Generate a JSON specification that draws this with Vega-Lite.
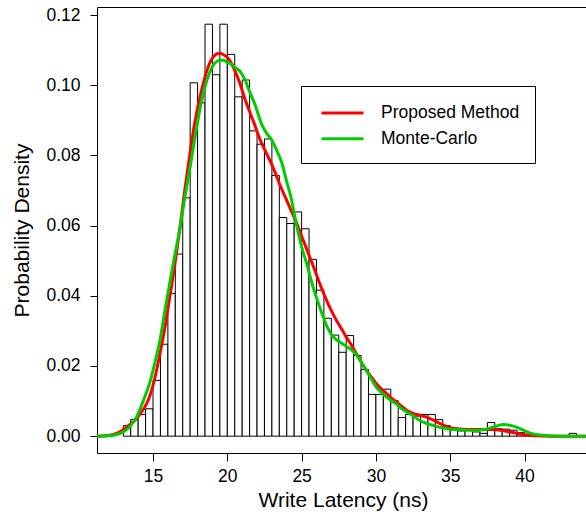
{
  "$schema": "https://vega.github.io/schema/vega-lite/v6.json",
  "width": 492,
  "height": 446,
  "autosize": "none",
  "padding": {"left": 97, "top": 7, "right": 0, "bottom": 61},
  "background": "white",
  "config": {
    "font": "Liberation Sans",
    "view": {"stroke": "black", "strokeWidth": 1},
    "axis": {
      "domain": false,
      "grid": false,
      "tickColor": "black",
      "labelColor": "black",
      "titleColor": "black",
      "labelFont": "Liberation Sans",
      "titleFont": "Liberation Sans",
      "labelFontSize": 17.5,
      "titleFontSize": 21,
      "titleFontWeight": "normal"
    },
    "legend": {
      "orient": "none",
      "legendX": 204,
      "legendY": 79,
      "strokeColor": "black",
      "fillColor": "white",
      "padding": 15,
      "symbolType": "M-0.619,0H3.381",
      "symbolSize": 441,
      "symbolStrokeWidth": 3,
      "labelFontSize": 17.5,
      "labelFont": "Liberation Sans",
      "labelColor": "black",
      "labelOffset": 41,
      "rowPadding": 4.8,
      "labelLimit": 300,
      "titleOrient": "right",
      "titleFontSize": 17.5,
      "titleFont": "Liberation Sans",
      "titlePadding": 0
    }
  },
  "datasets": {
    "hist": [
      {"bin_start": 13.0, "bin_end": 13.5, "density": 0.0030},
      {"bin_start": 13.5, "bin_end": 14.0, "density": 0.0048},
      {"bin_start": 14.0, "bin_end": 14.5, "density": 0.0062},
      {"bin_start": 14.5, "bin_end": 15.0, "density": 0.0078},
      {"bin_start": 15.0, "bin_end": 15.5, "density": 0.0159},
      {"bin_start": 15.5, "bin_end": 16.0, "density": 0.0262},
      {"bin_start": 16.0, "bin_end": 16.5, "density": 0.0407},
      {"bin_start": 16.5, "bin_end": 17.0, "density": 0.0519},
      {"bin_start": 17.0, "bin_end": 17.5, "density": 0.0679},
      {"bin_start": 17.5, "bin_end": 18.0, "density": 0.1007},
      {"bin_start": 18.0, "bin_end": 18.5, "density": 0.0950},
      {"bin_start": 18.5, "bin_end": 19.0, "density": 0.1174},
      {"bin_start": 19.0, "bin_end": 19.5, "density": 0.1030},
      {"bin_start": 19.5, "bin_end": 20.0, "density": 0.1174},
      {"bin_start": 20.0, "bin_end": 20.5, "density": 0.1088},
      {"bin_start": 20.5, "bin_end": 21.0, "density": 0.0967},
      {"bin_start": 21.0, "bin_end": 21.5, "density": 0.1015},
      {"bin_start": 21.5, "bin_end": 22.0, "density": 0.0870},
      {"bin_start": 22.0, "bin_end": 22.5, "density": 0.0832},
      {"bin_start": 22.5, "bin_end": 23.0, "density": 0.0847},
      {"bin_start": 23.0, "bin_end": 23.5, "density": 0.0743},
      {"bin_start": 23.5, "bin_end": 24.0, "density": 0.0623},
      {"bin_start": 24.0, "bin_end": 24.5, "density": 0.0606},
      {"bin_start": 24.5, "bin_end": 25.0, "density": 0.0639},
      {"bin_start": 25.0, "bin_end": 25.5, "density": 0.0591},
      {"bin_start": 25.5, "bin_end": 26.0, "density": 0.0504},
      {"bin_start": 26.0, "bin_end": 26.5, "density": 0.0416},
      {"bin_start": 26.5, "bin_end": 27.0, "density": 0.0336},
      {"bin_start": 27.0, "bin_end": 27.5, "density": 0.0288},
      {"bin_start": 27.5, "bin_end": 28.0, "density": 0.0239},
      {"bin_start": 28.0, "bin_end": 28.5, "density": 0.0287},
      {"bin_start": 28.5, "bin_end": 29.0, "density": 0.0230},
      {"bin_start": 29.0, "bin_end": 29.5, "density": 0.0190},
      {"bin_start": 29.5, "bin_end": 30.0, "density": 0.0119},
      {"bin_start": 30.0, "bin_end": 30.5, "density": 0.0119},
      {"bin_start": 30.5, "bin_end": 31.0, "density": 0.0134},
      {"bin_start": 31.0, "bin_end": 31.5, "density": 0.0101},
      {"bin_start": 31.5, "bin_end": 32.0, "density": 0.0053},
      {"bin_start": 32.0, "bin_end": 32.5, "density": 0.0062},
      {"bin_start": 32.5, "bin_end": 33.0, "density": 0.0057},
      {"bin_start": 33.0, "bin_end": 33.5, "density": 0.0062},
      {"bin_start": 33.5, "bin_end": 34.0, "density": 0.0062},
      {"bin_start": 34.0, "bin_end": 34.5, "density": 0.0047},
      {"bin_start": 34.5, "bin_end": 35.0, "density": 0.0030},
      {"bin_start": 35.0, "bin_end": 35.5, "density": 0.0023},
      {"bin_start": 35.5, "bin_end": 36.0, "density": 0.0015},
      {"bin_start": 36.0, "bin_end": 36.5, "density": 0.0021},
      {"bin_start": 36.5, "bin_end": 37.0, "density": 0.0012},
      {"bin_start": 37.0, "bin_end": 37.5, "density": 0.0008},
      {"bin_start": 37.5, "bin_end": 38.0, "density": 0.0039},
      {"bin_start": 38.0, "bin_end": 38.5, "density": 0.0021},
      {"bin_start": 38.5, "bin_end": 39.0, "density": 0.0020},
      {"bin_start": 39.0, "bin_end": 39.5, "density": 0.0017},
      {"bin_start": 39.5, "bin_end": 40.0, "density": 0.0010},
      {"bin_start": 40.0, "bin_end": 40.5, "density": 0.0005},
      {"bin_start": 40.5, "bin_end": 41.0, "density": 0.0003},
      {"bin_start": 41.0, "bin_end": 41.5, "density": 0.0},
      {"bin_start": 41.5, "bin_end": 42.0, "density": 0.0},
      {"bin_start": 42.0, "bin_end": 42.5, "density": 0.0},
      {"bin_start": 42.5, "bin_end": 43.0, "density": 0.0},
      {"bin_start": 43.0, "bin_end": 43.5, "density": 0.0008}
    ],
    "curves": [
      {"series": "Proposed Method", "x": 11.23, "y": 0.0},
      {"series": "Proposed Method", "x": 12.0, "y": 0.0002},
      {"series": "Proposed Method", "x": 12.5, "y": 0.0007},
      {"series": "Proposed Method", "x": 13.0, "y": 0.0018},
      {"series": "Proposed Method", "x": 13.5, "y": 0.0035},
      {"series": "Proposed Method", "x": 13.9, "y": 0.0050},
      {"series": "Proposed Method", "x": 14.2, "y": 0.0068},
      {"series": "Proposed Method", "x": 14.46, "y": 0.0084},
      {"series": "Proposed Method", "x": 14.7, "y": 0.0105},
      {"series": "Proposed Method", "x": 14.91, "y": 0.0131},
      {"series": "Proposed Method", "x": 15.2, "y": 0.0180},
      {"series": "Proposed Method", "x": 15.47, "y": 0.0236},
      {"series": "Proposed Method", "x": 15.81, "y": 0.0312},
      {"series": "Proposed Method", "x": 16.14, "y": 0.0400},
      {"series": "Proposed Method", "x": 16.48, "y": 0.0492},
      {"series": "Proposed Method", "x": 16.82, "y": 0.0596},
      {"series": "Proposed Method", "x": 17.15, "y": 0.0705},
      {"series": "Proposed Method", "x": 17.5, "y": 0.0810},
      {"series": "Proposed Method", "x": 17.83, "y": 0.0898},
      {"series": "Proposed Method", "x": 18.15, "y": 0.0965},
      {"series": "Proposed Method", "x": 18.5, "y": 0.1024},
      {"series": "Proposed Method", "x": 18.8, "y": 0.1062},
      {"series": "Proposed Method", "x": 19.06, "y": 0.1081},
      {"series": "Proposed Method", "x": 19.3, "y": 0.1090},
      {"series": "Proposed Method", "x": 19.51, "y": 0.1091},
      {"series": "Proposed Method", "x": 19.75, "y": 0.1087},
      {"series": "Proposed Method", "x": 19.96, "y": 0.1081},
      {"series": "Proposed Method", "x": 20.25, "y": 0.1065},
      {"series": "Proposed Method", "x": 20.52, "y": 0.1040},
      {"series": "Proposed Method", "x": 20.85, "y": 0.1005},
      {"series": "Proposed Method", "x": 21.19, "y": 0.0960},
      {"series": "Proposed Method", "x": 21.5, "y": 0.0925},
      {"series": "Proposed Method", "x": 21.86, "y": 0.0885},
      {"series": "Proposed Method", "x": 22.2, "y": 0.0845},
      {"series": "Proposed Method", "x": 22.53, "y": 0.0815},
      {"series": "Proposed Method", "x": 22.87, "y": 0.0785},
      {"series": "Proposed Method", "x": 23.2, "y": 0.0753},
      {"series": "Proposed Method", "x": 23.5, "y": 0.0720},
      {"series": "Proposed Method", "x": 23.87, "y": 0.0684},
      {"series": "Proposed Method", "x": 24.2, "y": 0.0652},
      {"series": "Proposed Method", "x": 24.54, "y": 0.0620},
      {"series": "Proposed Method", "x": 24.88, "y": 0.0584},
      {"series": "Proposed Method", "x": 25.22, "y": 0.0546},
      {"series": "Proposed Method", "x": 25.55, "y": 0.0510},
      {"series": "Proposed Method", "x": 25.89, "y": 0.0473},
      {"series": "Proposed Method", "x": 26.2, "y": 0.0437},
      {"series": "Proposed Method", "x": 26.6, "y": 0.0395},
      {"series": "Proposed Method", "x": 26.95, "y": 0.0362},
      {"series": "Proposed Method", "x": 27.33, "y": 0.0331},
      {"series": "Proposed Method", "x": 27.7, "y": 0.0305},
      {"series": "Proposed Method", "x": 28.0, "y": 0.0283},
      {"series": "Proposed Method", "x": 28.35, "y": 0.0260},
      {"series": "Proposed Method", "x": 28.67, "y": 0.0236},
      {"series": "Proposed Method", "x": 29.0, "y": 0.0212},
      {"series": "Proposed Method", "x": 29.35, "y": 0.0188},
      {"series": "Proposed Method", "x": 29.7, "y": 0.0168},
      {"series": "Proposed Method", "x": 30.02, "y": 0.0150},
      {"series": "Proposed Method", "x": 30.35, "y": 0.0135},
      {"series": "Proposed Method", "x": 30.7, "y": 0.0122},
      {"series": "Proposed Method", "x": 31.0, "y": 0.0110},
      {"series": "Proposed Method", "x": 31.37, "y": 0.0098},
      {"series": "Proposed Method", "x": 31.7, "y": 0.0086},
      {"series": "Proposed Method", "x": 32.07, "y": 0.0074},
      {"series": "Proposed Method", "x": 32.5, "y": 0.0065},
      {"series": "Proposed Method", "x": 33.0, "y": 0.0059},
      {"series": "Proposed Method", "x": 33.42, "y": 0.0054},
      {"series": "Proposed Method", "x": 33.9, "y": 0.0045},
      {"series": "Proposed Method", "x": 34.31, "y": 0.0036},
      {"series": "Proposed Method", "x": 34.75, "y": 0.0028},
      {"series": "Proposed Method", "x": 35.2, "y": 0.0022},
      {"series": "Proposed Method", "x": 35.8, "y": 0.0020},
      {"series": "Proposed Method", "x": 36.55, "y": 0.0019},
      {"series": "Proposed Method", "x": 37.2, "y": 0.0019},
      {"series": "Proposed Method", "x": 37.9, "y": 0.0019},
      {"series": "Proposed Method", "x": 38.5, "y": 0.0016},
      {"series": "Proposed Method", "x": 39.02, "y": 0.0012},
      {"series": "Proposed Method", "x": 39.6, "y": 0.0007},
      {"series": "Proposed Method", "x": 40.15, "y": 0.0003},
      {"series": "Proposed Method", "x": 40.8, "y": 0.0001},
      {"series": "Proposed Method", "x": 41.7, "y": 0.0},
      {"series": "Proposed Method", "x": 44.3, "y": 0.0},
      {"series": "Monte-Carlo", "x": 11.23, "y": 0.0},
      {"series": "Monte-Carlo", "x": 12.0, "y": 0.0001},
      {"series": "Monte-Carlo", "x": 12.5, "y": 0.0004},
      {"series": "Monte-Carlo", "x": 13.0, "y": 0.0012},
      {"series": "Monte-Carlo", "x": 13.5, "y": 0.0030},
      {"series": "Monte-Carlo", "x": 13.9, "y": 0.0055},
      {"series": "Monte-Carlo", "x": 14.2, "y": 0.0085},
      {"series": "Monte-Carlo", "x": 14.5, "y": 0.0118},
      {"series": "Monte-Carlo", "x": 14.8, "y": 0.0155},
      {"series": "Monte-Carlo", "x": 15.1, "y": 0.0205},
      {"series": "Monte-Carlo", "x": 15.47, "y": 0.0274},
      {"series": "Monte-Carlo", "x": 15.81, "y": 0.0360},
      {"series": "Monte-Carlo", "x": 16.14, "y": 0.0440},
      {"series": "Monte-Carlo", "x": 16.48, "y": 0.0518},
      {"series": "Monte-Carlo", "x": 16.82, "y": 0.0595},
      {"series": "Monte-Carlo", "x": 17.15, "y": 0.0682},
      {"series": "Monte-Carlo", "x": 17.49, "y": 0.0765},
      {"series": "Monte-Carlo", "x": 17.83, "y": 0.0853},
      {"series": "Monte-Carlo", "x": 18.15, "y": 0.0930},
      {"series": "Monte-Carlo", "x": 18.5, "y": 0.0996},
      {"series": "Monte-Carlo", "x": 18.8, "y": 0.1035},
      {"series": "Monte-Carlo", "x": 19.06, "y": 0.1058},
      {"series": "Monte-Carlo", "x": 19.3, "y": 0.1068},
      {"series": "Monte-Carlo", "x": 19.51, "y": 0.1072},
      {"series": "Monte-Carlo", "x": 19.75, "y": 0.1071},
      {"series": "Monte-Carlo", "x": 19.96, "y": 0.1067},
      {"series": "Monte-Carlo", "x": 20.25, "y": 0.1060},
      {"series": "Monte-Carlo", "x": 20.52, "y": 0.1050},
      {"series": "Monte-Carlo", "x": 20.85, "y": 0.1040},
      {"series": "Monte-Carlo", "x": 21.19, "y": 0.1015},
      {"series": "Monte-Carlo", "x": 21.5, "y": 0.0982},
      {"series": "Monte-Carlo", "x": 21.86, "y": 0.0945},
      {"series": "Monte-Carlo", "x": 22.0, "y": 0.0928},
      {"series": "Monte-Carlo", "x": 22.3, "y": 0.0890},
      {"series": "Monte-Carlo", "x": 22.65, "y": 0.0863},
      {"series": "Monte-Carlo", "x": 23.0, "y": 0.0843},
      {"series": "Monte-Carlo", "x": 23.32, "y": 0.0815},
      {"series": "Monte-Carlo", "x": 23.66, "y": 0.0780},
      {"series": "Monte-Carlo", "x": 24.0, "y": 0.0725},
      {"series": "Monte-Carlo", "x": 24.3, "y": 0.0678},
      {"series": "Monte-Carlo", "x": 24.54, "y": 0.0626},
      {"series": "Monte-Carlo", "x": 24.8, "y": 0.0575},
      {"series": "Monte-Carlo", "x": 25.0, "y": 0.0540},
      {"series": "Monte-Carlo", "x": 25.34, "y": 0.0492},
      {"series": "Monte-Carlo", "x": 25.7, "y": 0.0435},
      {"series": "Monte-Carlo", "x": 26.02, "y": 0.0392},
      {"series": "Monte-Carlo", "x": 26.35, "y": 0.0352},
      {"series": "Monte-Carlo", "x": 26.69, "y": 0.0314},
      {"series": "Monte-Carlo", "x": 27.0, "y": 0.0290},
      {"series": "Monte-Carlo", "x": 27.36, "y": 0.0274},
      {"series": "Monte-Carlo", "x": 27.7, "y": 0.0265},
      {"series": "Monte-Carlo", "x": 28.03, "y": 0.0255},
      {"series": "Monte-Carlo", "x": 28.3, "y": 0.0248},
      {"series": "Monte-Carlo", "x": 28.6, "y": 0.0236},
      {"series": "Monte-Carlo", "x": 29.0, "y": 0.0212},
      {"series": "Monte-Carlo", "x": 29.35, "y": 0.0188},
      {"series": "Monte-Carlo", "x": 29.7, "y": 0.0162},
      {"series": "Monte-Carlo", "x": 30.02, "y": 0.0140},
      {"series": "Monte-Carlo", "x": 30.35, "y": 0.0125},
      {"series": "Monte-Carlo", "x": 30.7, "y": 0.0112},
      {"series": "Monte-Carlo", "x": 31.0, "y": 0.0102},
      {"series": "Monte-Carlo", "x": 31.37, "y": 0.0092},
      {"series": "Monte-Carlo", "x": 31.62, "y": 0.0082},
      {"series": "Monte-Carlo", "x": 32.07, "y": 0.0069},
      {"series": "Monte-Carlo", "x": 32.5, "y": 0.0058},
      {"series": "Monte-Carlo", "x": 32.9, "y": 0.0046},
      {"series": "Monte-Carlo", "x": 33.42, "y": 0.0036},
      {"series": "Monte-Carlo", "x": 33.9, "y": 0.0030},
      {"series": "Monte-Carlo", "x": 34.31, "y": 0.0025},
      {"series": "Monte-Carlo", "x": 34.75, "y": 0.0021},
      {"series": "Monte-Carlo", "x": 35.2, "y": 0.0019},
      {"series": "Monte-Carlo", "x": 36.1, "y": 0.0017},
      {"series": "Monte-Carlo", "x": 36.7, "y": 0.0016},
      {"series": "Monte-Carlo", "x": 37.23, "y": 0.0018},
      {"series": "Monte-Carlo", "x": 37.7, "y": 0.0023},
      {"series": "Monte-Carlo", "x": 38.13, "y": 0.0029},
      {"series": "Monte-Carlo", "x": 38.6, "y": 0.0033},
      {"series": "Monte-Carlo", "x": 39.02, "y": 0.0031},
      {"series": "Monte-Carlo", "x": 39.5, "y": 0.0025},
      {"series": "Monte-Carlo", "x": 39.92, "y": 0.0017},
      {"series": "Monte-Carlo", "x": 40.3, "y": 0.0010},
      {"series": "Monte-Carlo", "x": 40.6, "y": 0.0006},
      {"series": "Monte-Carlo", "x": 41.0, "y": 0.0003},
      {"series": "Monte-Carlo", "x": 41.7, "y": 0.0001},
      {"series": "Monte-Carlo", "x": 42.5, "y": 0.0},
      {"series": "Monte-Carlo", "x": 44.3, "y": 0.0}
    ]
  },
  "layer": [
    {
      "data": {"name": "hist"},
      "mark": {"type": "rect", "fill": "white", "stroke": "black", "strokeWidth": 1},
      "encoding": {
        "x": {
          "field": "bin_start",
          "type": "quantitative",
          "scale": {"domain": [11.23, 44.34], "nice": false, "zero": false},
          "axis": {
            "values": [15, 20, 25, 30, 35, 40],
            "tickSize": 8,
            "labelPadding": 6,
            "title": "Write Latency (ns)",
            "titlePadding": 5
          }
        },
        "x2": {"field": "bin_end"},
        "y": {
          "field": "density",
          "type": "quantitative",
          "scale": {"domain": [-0.0048, 0.1223], "nice": false, "zero": false},
          "axis": {
            "values": [0, 0.02, 0.04, 0.06, 0.08, 0.10, 0.12],
            "format": ".2f",
            "tickSize": 7,
            "labelPadding": 10,
            "title": "Probability Density",
            "titlePadding": 13
          }
        },
        "y2": {"datum": 0}
      }
    },
    {
      "data": {"name": "curves"},
      "mark": {"type": "line", "strokeWidth": 3, "clip": true, "interpolate": "monotone"},
      "encoding": {
        "x": {"field": "x", "type": "quantitative"},
        "y": {"field": "y", "type": "quantitative"},
        "color": {
          "field": "series",
          "type": "nominal",
          "scale": {"domain": ["Proposed Method", "Monte-Carlo"], "range": ["#FF0000", "#00CD00"]},
          "legend": {"title": "\u00a0\u00a0\u00a0\u00a0\u00a0"}
        }
      }
    }
  ]
}
